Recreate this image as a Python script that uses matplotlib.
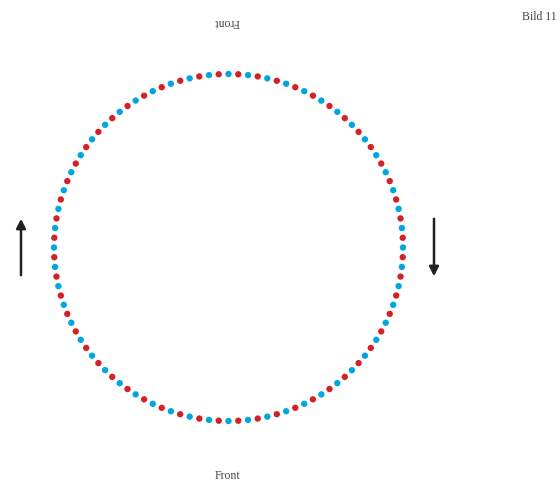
import numpy as np
import matplotlib.pyplot as plt

# Ring of dots, alternating red / blue
n_dots = 112
dot_colors = ['#00a6e2', '#d42128']  # blue first at angle 0
center = (228.5, 247.5)
radius = (174.5, 173.5)

labels = ['Front', 'Front', 'Bild 11']


def main():
    fig = plt.figure(figsize=(5.6, 4.83), dpi=100)
    ax = fig.add_axes([0, 0, 1, 1])
    ax.set_xlim(0, 560)
    ax.set_ylim(483, 0)
    ax.axis('off')

    ang = np.arange(n_dots) * 2 * np.pi / n_dots
    x = center[0] + radius[0] * np.cos(ang)
    y = center[1] - radius[1] * np.sin(ang)
    cols = [dot_colors[i % 2] for i in range(n_dots)]
    ax.scatter(x, y, s=21, c=cols, edgecolors='none', zorder=3)

    serif = ['Liberation Serif', 'DejaVu Serif']
    ax.text(227, 22, labels[0], rotation=180, ha='center', va='center',
            fontsize=8.5, family=serif, color='#444444')
    ax.text(227, 476, labels[1], ha='center', va='center',
            fontsize=8.5, family=serif, color='#444444')
    ax.text(539, 17, labels[2], ha='center', va='center',
            fontsize=8.5, family=serif, color='#444444')

    # arrows (left up, right down)
    arr = dict(arrowstyle='-|>,head_width=0.28,head_length=0.55', color='#222222', lw=1.8)
    ax.annotate('', xy=(21, 216), xytext=(21, 278), arrowprops=arr)
    ax.annotate('', xy=(434, 279), xytext=(434, 216), arrowprops=arr)

    fig.savefig('out.png', dpi=100)


if __name__ == '__main__':
    main()
